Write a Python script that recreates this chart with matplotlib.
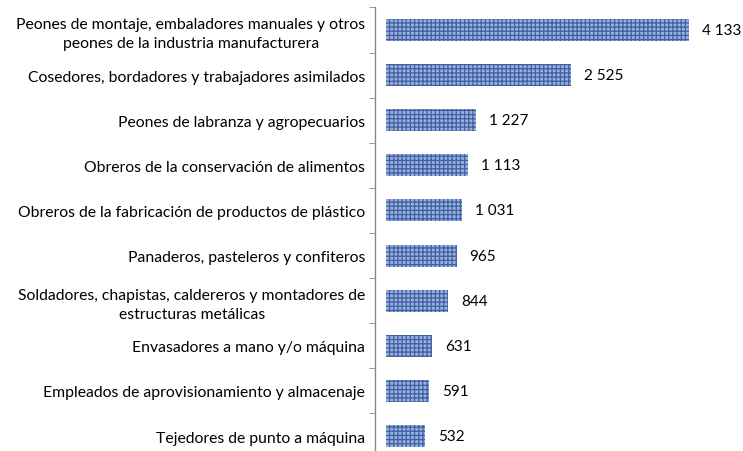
import matplotlib
matplotlib.use("Agg")
import matplotlib.pyplot as plt

categories = [
    "Peones de montaje, embaladores manuales y otros\npeones de la industria manufacturera",
    "Cosedores, bordadores y trabajadores asimilados",
    "Peones de labranza y agropecuarios",
    "Obreros de la conservación de alimentos",
    "Obreros de la fabricación de productos de plástico",
    "Panaderos, pasteleros y confiteros",
    "Soldadores, chapistas, caldereros y montadores de\nestructuras metálicas",
    "Envasadores a mano y/o máquina",
    "Empleados de aprovisionamiento y almacenaje",
    "Tejedores de punto a máquina",
]
values = [4133, 2525, 1227, 1113, 1031, 965, 844, 631, 591, 532]
value_labels = ["4 133", "2 525", "1 227", "1 113", "1 031", "965", "844", "631", "591", "532"]

plt.rcParams["font.family"] = ["Lato", "DejaVu Sans"]
plt.rcParams["hatch.linewidth"] = 0.9

fig = plt.figure(figsize=(7.43, 4.52), dpi=100)
ax = fig.add_axes([375 / 743, -7.6 / 452, 1 - 375 / 743, 1.0 - 8.4 / 452 + 7.6 / 452])

n = len(categories)
ypos = list(range(n))
ax.barh(ypos, values, height=0.49, color="#97b0e0", edgecolor="#3f5f9f",
        hatch="++++", linewidth=0)

ax.set_ylim(n - 0.5, -0.5)
ax.set_xlim(-150, 4870)

ax.set_yticks(ypos)
ax.set_yticklabels(categories, fontsize=11.3, color="#000000",
                   multialignment="center", linespacing=1.4)
ax.tick_params(axis="y", which="major", length=0, pad=7)
ax.set_yticks([i + 0.5 for i in range(-1, n)], minor=True)
ax.tick_params(axis="y", which="minor", length=4, color="#888888", direction="out")
ax.set_xticks([])

for s in ("top", "right", "bottom"):
    ax.spines[s].set_visible(False)
ax.spines["left"].set_color("#888888")
ax.spines["left"].set_linewidth(1.0)

for y, v, lab in zip(ypos, values, value_labels):
    ax.annotate(lab, xy=(v, y), xytext=(13, 0), textcoords="offset pixels",
                va="center", ha="left", fontsize=11, color="#000000")

fig.savefig("out.png", dpi=100)
